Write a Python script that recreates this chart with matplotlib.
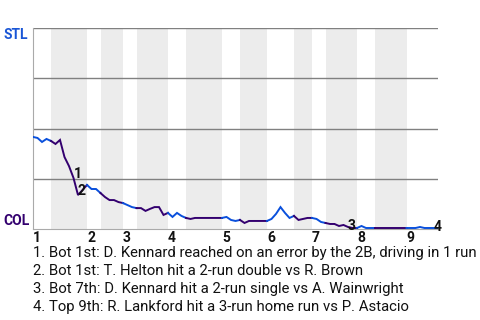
import matplotlib
matplotlib.use("Agg")
import matplotlib.pyplot as plt
import numpy as np

plt.rcParams['font.family'] = ['Roboto', 'DejaVu Sans']

# win probability for STL (1 = STL wins, 0 = COL wins), one value per play
wp = [0.458, 0.453, 0.433, 0.448, 0.438, 0.423, 0.443, 0.358, 0.313, 0.254,
      0.169, 0.194, 0.219, 0.199, 0.199, 0.179, 0.159, 0.144, 0.144, 0.134,
      0.129, 0.119, 0.109, 0.104, 0.104, 0.090, 0.100, 0.109, 0.109, 0.070,
      0.080, 0.060, 0.080, 0.065, 0.055, 0.050, 0.055, 0.055, 0.055, 0.055,
      0.055, 0.055, 0.055, 0.060, 0.045, 0.040, 0.045, 0.030, 0.040, 0.040,
      0.040, 0.040, 0.040, 0.050, 0.075, 0.109, 0.080, 0.055, 0.065, 0.045,
      0.050, 0.055, 0.055, 0.050, 0.035, 0.030, 0.025, 0.025, 0.015, 0.020,
      0.010, 0.005, 0.005, 0.015, 0.005, 0.005, 0.005, 0.005, 0.005, 0.005,
      0.005, 0.005, 0.005, 0.005, 0.005, 0.005, 0.010, 0.005, 0.005, 0.005,
      0.005]

# play index where each half inning starts (top 1st, bot 1st, top 2nd, ...)
half_starts = [0, 4, 12, 15, 20, 23, 30, 34, 42, 46, 52, 58, 62, 65, 72, 76, 83, 90]
innings = ['1', '2', '3', '4', '5', '6', '7', '8', '9']

event_plays = [9, 10, 70, 89]
event_text = [
    "1. Bot 1st: D. Kennard reached on an error by the 2B, driving in 1 run",
    "2. Bot 1st: T. Helton hit a 2-run double vs R. Brown",
    "3. Bot 7th: D. Kennard hit a 2-run single vs A. Wainwright",
    "4. Top 9th: R. Lankford hit a 3-run home run vs P. Astacio",
]

blue = '#0a50dc'
purple = '#33006f'

fig = plt.figure(figsize=(4.8, 3.2), dpi=100)
ax = fig.add_axes([33/480, 1-229/320, 405/480, 201/320])

x = np.arange(len(wp))
n_half = len(half_starts) - 1
for i in range(n_half):
    a, b = half_starts[i], half_starts[i+1]
    if i % 2 == 1:
        ax.axvspan(a, b, color='#ececec', lw=0, zorder=0)
    ax.plot(x[a:b+1], wp[a:b+1], color=purple if i % 2 else blue, lw=1.4,
            solid_joinstyle='miter', zorder=3)

for g in [0.25, 0.5, 0.75, 1.0]:
    ax.axhline(g, color='#808080', lw=1, zorder=1)

ax.set_xlim(0, len(wp) - 1)
ax.set_ylim(0, 1)
ax.set_xticks([])
ax.set_yticks([])
for s in ['top', 'right']:
    ax.spines[s].set_visible(False)
ax.spines['left'].set_color('#aaaaaa')
ax.spines['bottom'].set_color('#aaaaaa')

# inning numbers
for i, lab in enumerate(innings):
    ax.annotate(lab, (half_starts[2*i], 0), xytext=(0, -9.5), textcoords='offset points',
                ha='left', va='baseline', fontsize=10, fontweight='bold', color='#111111')

# event markers
for k, n in enumerate(event_plays):
    y = wp[n]
    dy = -2 if y < 0.02 else 0
    ax.annotate(str(k+1), (n, y), xytext=(0, dy), textcoords='offset points',
                ha='left', va='baseline', fontsize=10, fontweight='bold', color='#111111',
                zorder=4)

ax.text(-0.013, 1.0, 'STL', transform=ax.transAxes, ha='right', va='top',
        fontsize=10, fontweight='bold', color='#1a56d6')
ax.text(-0.008, 0.02, 'COL', transform=ax.transAxes, ha='right', va='baseline',
        fontsize=10, fontweight='bold', color=purple)

for i, t in enumerate(event_text):
    fig.text(33/480, 1 - (257 + 18*i)/320, t, ha='left', va='baseline',
             fontsize=10.7, color='#111111')

fig.savefig('out.png', dpi=100)
